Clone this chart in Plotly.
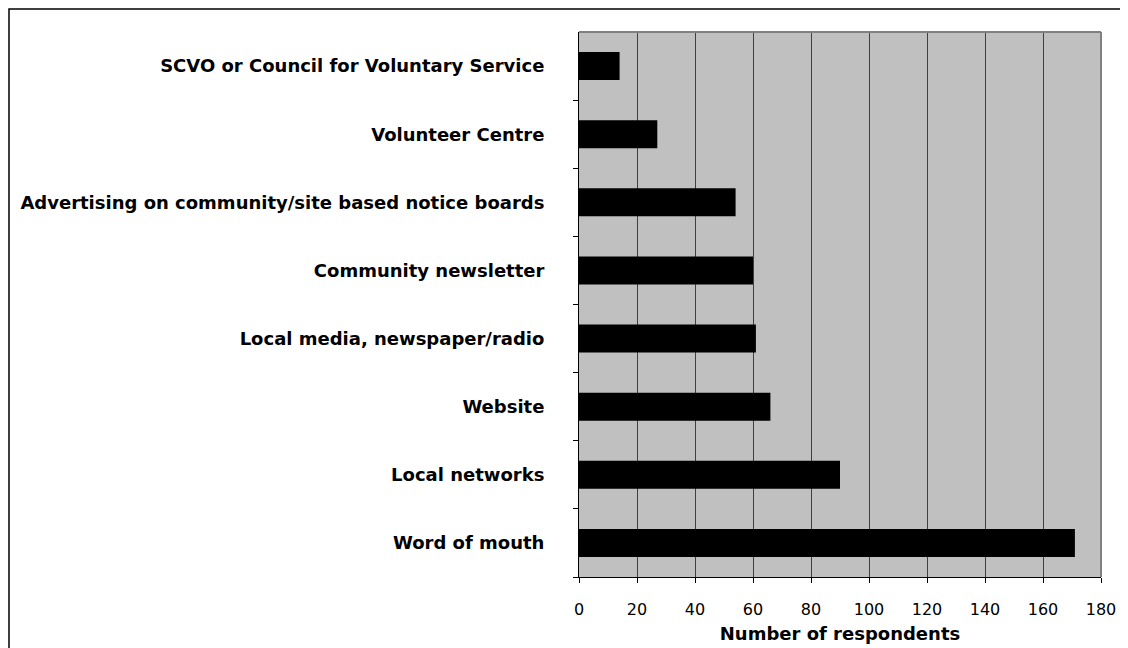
import plotly.graph_objects as go

categories = [
    "SCVO or Council for Voluntary Service",
    "Volunteer Centre",
    "Advertising on community/site based notice boards",
    "Community newsletter",
    "Local media, newspaper/radio",
    "Website",
    "Local networks",
    "Word of mouth",
]
respondents = [14, 27, 54, 60, 61, 66, 90, 171]
x_ticks = [0, 20, 40, 60, 80, 100, 120, 140, 160, 180]
x_title = "Number of respondents"

W, H = 1128, 648
L, R, T, B = 571, 1093, 24, 569

fig = go.Figure(
    go.Bar(
        x=respondents,
        y=categories,
        orientation="h",
        width=0.41,
        marker=dict(color="#000000", line=dict(color="#000000", width=0)),
    )
)

font_family = "DejaVu Sans, Liberation Sans, Arial, sans-serif"

fig.update_layout(
    width=W,
    height=H,
    margin=dict(l=L, r=W - R, t=T, b=H - B, pad=0),
    paper_bgcolor="#FFFFFF",
    plot_bgcolor="#C0C0C0",
    showlegend=False,
    font=dict(family=font_family, color="#000000"),
    xaxis=dict(
        range=[0, 180],
        tickvals=x_ticks,
        ticktext=[str(v) for v in x_ticks],
        showgrid=True,
        gridcolor="#404040",
        gridwidth=1,
        zeroline=False,
        showline=True,
        linecolor="#000000",
        linewidth=1,
        ticks="outside",
        ticklen=5,
        tickcolor="#000000",
        tickfont=dict(size=16, family=font_family),
        ticklabelstandoff=13,
        title=dict(text="<b>" + x_title + "</b>", font=dict(size=18, family=font_family), standoff=9),
        fixedrange=True,
    ),
    yaxis=dict(
        categoryorder="array",
        categoryarray=categories[::-1],
        tickson="boundaries",
        ticks="outside",
        ticklen=5,
        tickcolor="#000000",
        showgrid=False,
        zeroline=False,
        showline=True,
        linecolor="#000000",
        linewidth=1,
        tickfont=dict(size=18, family=font_family),
        tickvals=categories,
        ticktext=["<b>" + c + "</b>" for c in categories],
        ticklabelstandoff=30,
        fixedrange=True,
    ),
    shapes=[
        # top and right plot border (gray)
        dict(type="line", xref="paper", yref="paper", x0=0, x1=1, y0=1, y1=1,
             line=dict(color="#808080", width=2)),
        dict(type="line", xref="paper", yref="paper", x0=1, x1=1, y0=0, y1=1,
             line=dict(color="#808080", width=2)),
        # outer chart frame (at the figure edge)
        dict(type="rect", xref="paper", yref="paper",
             x0=(1 - L) / (R - L), x1=(W - 1 - L) / (R - L),
             y0=(B - (H - 1)) / (B - T), y1=(B - 1) / (B - T),
             line=dict(color="#000000", width=1.5), fillcolor="rgba(0,0,0,0)", layer="below"),
    ],
)

fig.write_html("out.html")
